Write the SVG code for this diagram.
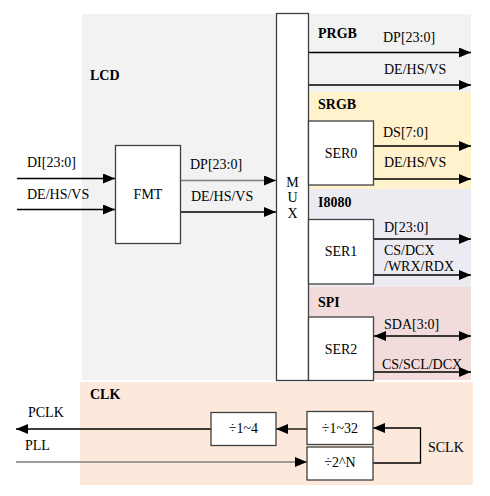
<svg xmlns="http://www.w3.org/2000/svg" width="490" height="496" viewBox="0 0 490 496" font-family="'Liberation Serif', 'DejaVu Serif', serif">
<defs>
<marker id="ah" markerUnits="userSpaceOnUse" markerWidth="12" markerHeight="10" refX="12" refY="5" orient="auto-start-reverse">
<path d="M0,0 L12,5 L0,10 z" fill="#000"/>
</marker>
</defs>
<style>
text{font-family:'Liberation Serif','DejaVu Serif',serif;font-size:14px;fill:#000}
.b{font-weight:bold;font-size:14px}
.m{text-anchor:middle}
.box{fill:#fff;stroke:#404040;stroke-width:1.3}
.ln{fill:none;stroke:#000;stroke-width:1.3}
.g{stroke:#7f7f7f}
.a{marker-end:url(#ah)}
</style>
<g id="backgrounds">
<rect x="82" y="14" width="389" height="366" fill="#f2f2f2"/>
<rect x="309" y="92" width="162" height="97" fill="#fff2cc"/>
<rect x="309" y="189" width="162" height="98" fill="#edebf2"/>
<rect x="309" y="287" width="162" height="93" fill="#f2dcdb"/>
<rect x="80" y="382" width="393" height="103" fill="#fce9db"/>
</g>
<g id="region-labels">
<text class="b" x="90" y="80">LCD</text>
<text class="b" x="318" y="38">PRGB</text>
<text class="b" x="318" y="109">SRGB</text>
<text class="b" x="318" y="207">I8080</text>
<text class="b" x="318" y="307">SPI</text>
<text class="b" x="90" y="399">CLK</text>
</g>
<g id="connectors">
<line class="ln a" x1="17" y1="178.5" x2="115" y2="178.5"/>
<line class="ln a" x1="17" y1="209.5" x2="115" y2="209.5"/>
<line class="ln g a" x1="180" y1="180.5" x2="276" y2="180.5"/>
<line class="ln a" x1="180" y1="212" x2="276" y2="212"/>
<line class="ln a" x1="309" y1="52.5" x2="471" y2="52.5"/>
<line class="ln a" x1="309" y1="85" x2="471" y2="85"/>
<line class="ln a" x1="374" y1="146" x2="471" y2="146"/>
<line class="ln a" x1="374" y1="179" x2="471" y2="179"/>
<line class="ln a" x1="374" y1="239" x2="471" y2="239"/>
<line class="ln a" x1="374" y1="275" x2="471" y2="275"/>
<line class="ln a" x1="374" y1="336" x2="471" y2="336" marker-start="url(#ah)"/>
<line class="ln a" x1="374" y1="372" x2="471" y2="372"/>
<line class="ln a" x1="211" y1="429" x2="16" y2="429"/>
<line class="ln a" x1="307" y1="429" x2="276" y2="429"/>
<line class="ln g a" x1="16" y1="462" x2="307" y2="462"/>
<polyline class="ln a" points="373,463 420.5,463 420.5,428 373,428"/>
</g>
<g id="fmt">
<rect class="box" x="115.5" y="145.5" width="65" height="98"/>
<text class="m" x="148" y="199">FMT</text>
</g>
<g id="mux">
<rect class="box" x="276.5" y="13.5" width="32" height="367"/>
<text class="m" x="292.5" y="187">M</text>
<text class="m" x="292.5" y="202">U</text>
<text class="m" x="292.5" y="218">X</text>
</g>
<g id="ser0">
<rect class="box" x="308.5" y="121" width="65" height="64"/>
<text class="m" x="341" y="158">SER0</text>
</g>
<g id="ser1">
<rect class="box" x="308.5" y="219.5" width="65" height="64.5"/>
<text class="m" x="341" y="256">SER1</text>
</g>
<g id="ser2">
<rect class="box" x="308.5" y="317" width="65" height="63.5"/>
<text class="m" x="341" y="354">SER2</text>
</g>
<g id="div14">
<rect class="box" x="211" y="412.5" width="65" height="33"/>
<text class="m" x="243.5" y="433">÷1~4</text>
</g>
<g id="div132">
<rect class="box" x="307" y="411.5" width="66" height="33"/>
<text class="m" x="340" y="433">÷1~32</text>
</g>
<g id="div2n">
<rect class="box" x="307" y="447" width="66" height="33"/>
<text class="m" x="340" y="467">÷2^N</text>
</g>
<g id="signal-labels">
<text x="27" y="167">DI[23:0]</text>
<text x="27" y="199">DE/HS/VS</text>
<text x="190" y="169">DP[23:0]</text>
<text x="191" y="201">DE/HS/VS</text>
<text x="383" y="42">DP[23:0]</text>
<text x="384" y="74">DE/HS/VS</text>
<text x="383" y="137">DS[7:0]</text>
<text x="384" y="167">DE/HS/VS</text>
<text x="384" y="232">D[23:0]</text>
<text x="384" y="255">CS/DCX</text>
<text x="384" y="271">/WRX/RDX</text>
<text x="384" y="329">SDA[3:0]</text>
<text x="382" y="369">CS/SCL/DCX</text>
<text x="28" y="417">PCLK</text>
<text x="25" y="450">PLL</text>
<text x="428" y="452">SCLK</text>
</g>
</svg>
